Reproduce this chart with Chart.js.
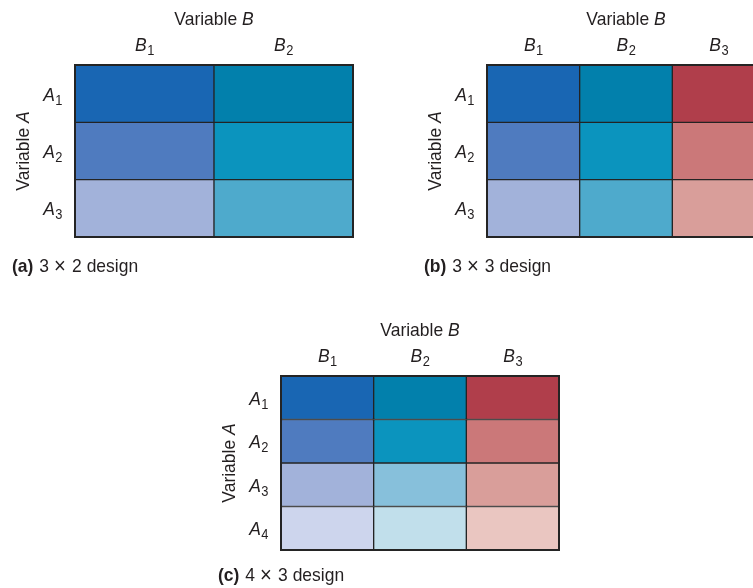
<!DOCTYPE html>
<html>
<head>
<meta charset="utf-8">
<script src="https://cdn.jsdelivr.net/npm/chart.js@4"></script>
<style>
  html,body{margin:0;padding:0;background:#fff;overflow:hidden;width:753px;height:588px;}
  canvas{position:absolute;}
  #chart-a{left:0;top:0;}
  #chart-b{left:376px;top:0;}
  #chart-c{left:200px;top:300px;}
</style>
</head>
<body>
<canvas id="chart-a" width="376" height="280"></canvas>
<canvas id="chart-b" width="400" height="280"></canvas>
<canvas id="chart-c" width="380" height="288"></canvas>
<script>
// (a) 3 x 2 design
const levelsB_a=['B1','B2'];
const levelsA_a=['A1','A2','A3'];
const cells_a=[[1,1],[1,1],[1,1]];
const colors_a=[['#1966b3','#0280ac'],['#4f7bbf','#0b94be'],['#a2b2da','#4eaacc']];

// (b) 3 x 3 design
const levelsB_b=['B1','B2','B3'];
const levelsA_b=['A1','A2','A3'];
const cells_b=[[1,1,1],[1,1,1],[1,1,1]];
const colors_b=[['#1966b3','#0280ac','#b03e4b'],['#4f7bbf','#0b94be','#cb7879'],['#a2b2da','#4eaacc','#d99e9a']];

// (c) 4 x 3 design
const levelsB_c=['B1','B2','B3'];
const levelsA_c=['A1','A2','A3','A4'];
const cells_c=[[1,1,1],[1,1,1],[1,1,1],[1,1,1]];
const colors_c=[['#1966b3','#0280ac','#b03e4b'],['#4f7bbf','#0b94be','#cb7879'],['#a2b2da','#87c0db','#d99e9a'],['#cdd5ed','#c1dfeb','#eac6c1']];

const FONT='"Liberation Sans",Arimo,Arial,sans-serif';
const SX=0.92; // squeeze text a little, the original face is condensed
const INK='#231f20';
const LINE='#242424';

function textW(ctx,str,font){
  ctx.font=font+' '+FONT;
  return ctx.measureText(str).width*SX;
}
function putText(ctx,str,x,y,font){
  ctx.save();
  ctx.font=font+' '+FONT;
  ctx.translate(x,y);
  ctx.scale(SX,1);
  ctx.textAlign='left';
  ctx.fillText(str,0,0);
  ctx.restore();
}

// letter in italic, number as a small subscript
function drawSubLabel(ctx,text,x,y,align){
  const letter=text[0], sub=text.slice(1);
  const w1=textW(ctx,letter,'italic 19px');
  const w2=textW(ctx,sub,'14px');
  let x0=align==='right'?x-w1-w2:x-(w1+w2)/2;
  putText(ctx,letter,x0,y,'italic 19px');
  putText(ctx,sub,x0+w1+0.5,y+4,'14px');
}

function drawVarTitle(ctx,letter,cx,y){
  const w1=textW(ctx,'Variable ','19px');
  const w2=textW(ctx,letter,'italic 19px');
  const x0=cx-(w1+w2)/2;
  putText(ctx,'Variable ',x0,y,'19px');
  putText(ctx,letter,x0+w1,y,'italic 19px');
}

// "(a) 3 × 2 design" with the roomier × of the original
function drawCaption(ctx,tag,words,x,y){
  putText(ctx,tag,x,y,'bold 19px');
  let cx=x+textW(ctx,tag,'bold 19px')+6;
  words.forEach(w=>{
    const big=w==='\u00d7';
    const f=big?'22px':'19px';
    putText(ctx,w,cx,y+(big?1:0),f);
    cx+=textW(ctx,w,f)+(big?6:5);
  });
}

const designLabels={
  id:'designLabels',
  afterDraw(chart,args,opts){
    const {ctx,chartArea:ca,scales:{x,y}}=chart;
    ctx.save();
    ctx.strokeStyle=LINE;
    ctx.lineWidth=2;
    ctx.strokeRect(ca.left,ca.top,ca.width,ca.height);
    ctx.fillStyle=INK;
    ctx.textBaseline='alphabetic';
    drawVarTitle(ctx,'B',(ca.left+ca.right)/2,ca.top-40);
    chart.data.labels.forEach((lab,i)=>drawSubLabel(ctx,lab,x.getPixelForValue(i),ca.top-14,'center'));
    chart.data.datasets.forEach((ds,i)=>drawSubLabel(ctx,ds.label,ca.left-13,y.getPixelForValue(i+0.5)+7,'right'));
    ctx.save();
    ctx.translate(ca.left-46,(ca.top+ca.bottom)/2);
    ctx.rotate(-Math.PI/2);
    drawVarTitle(ctx,'A',0,0);
    ctx.restore();
    drawCaption(ctx,opts.tag,opts.caption,ca.left-63,ca.bottom+opts.gap);
    ctx.restore();
  }
};

function makeDesign(id,levelsB,levelsA,cells,colors,padding,tag,caption,gap){
  new Chart(document.getElementById(id),{
    type:'bar',
    data:{
      labels:levelsB,
      datasets:levelsA.map((a,r)=>({
        label:a,
        data:cells[r],
        backgroundColor:colors[r],
        borderColor:LINE,
        borderWidth:1,
        borderSkipped:false,
        categoryPercentage:1,
        barPercentage:1
      }))
    },
    options:{
      responsive:false,
      animation:false,
      layout:{padding:padding},
      plugins:{
        legend:{display:false},
        tooltip:{enabled:false},
        designLabels:{tag:tag,caption:caption,gap:gap}
      },
      scales:{
        x:{stacked:true,display:false},
        y:{stacked:true,display:false,reverse:true,min:0,max:levelsA.length}
      }
    },
    plugins:[designLabels]
  });
}

makeDesign('chart-a',levelsB_a,levelsA_a,cells_a,colors_a,{left:75,top:65,right:23,bottom:43},'(a)',['3','\u00d7','2','design'],35);
makeDesign('chart-b',levelsB_b,levelsA_b,cells_b,colors_b,{left:111,top:65,right:11,bottom:43},'(b)',['3','\u00d7','3','design'],35);
makeDesign('chart-c',levelsB_c,levelsA_c,cells_c,colors_c,{left:81,top:76,right:21,bottom:38},'(c)',['4','\u00d7','3','design'],31);
</script>
</body>
</html>
